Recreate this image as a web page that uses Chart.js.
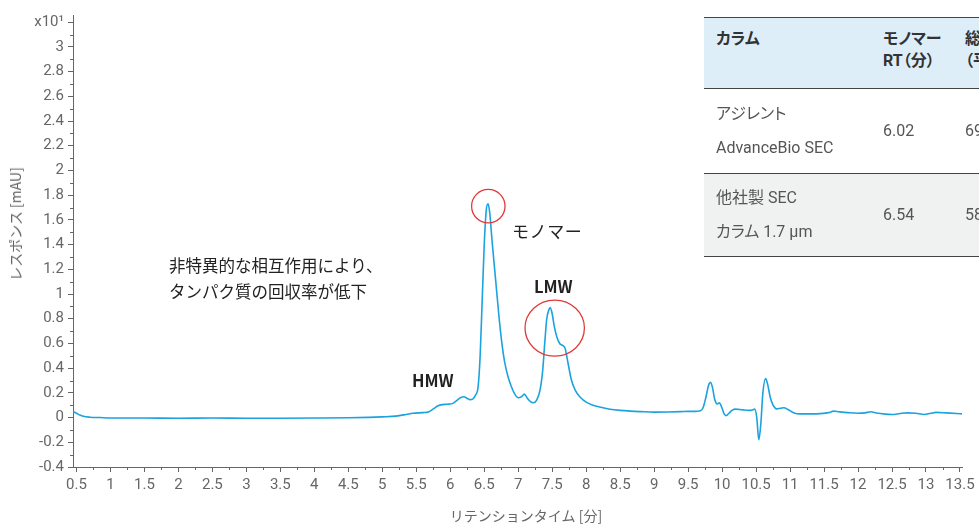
<!DOCTYPE html>
<html><head><meta charset="utf-8">
<script src="https://cdn.jsdelivr.net/npm/chart.js@4/dist/chart.umd.min.js"></script>
<style>
html,body{margin:0;padding:0;background:#fff;overflow:hidden;}
#wrap{position:relative;width:979px;height:525px;overflow:hidden;font-family:Roboto,"Noto Sans CJK JP",sans-serif;}
#c{position:absolute;left:0;top:0;}
.ann{position:absolute;white-space:nowrap;color:#222;font-family:"Noto Sans CJK JP",Roboto,sans-serif;}
.bold{font-weight:bold;font-family:"Noto Sans CJK JP",sans-serif;}
#ytitle{position:absolute;left:15px;top:224px;transform:translate(-50%,-50%) rotate(-90deg);color:#666;font-size:14px;white-space:nowrap;font-family:"Noto Sans CJK JP",Roboto,sans-serif;}
#xtitle{position:absolute;left:526px;top:515px;transform:translate(-50%,-50%);color:#666;font-size:14px;white-space:nowrap;font-family:"Noto Sans CJK JP",Roboto,sans-serif;}
table{position:absolute;left:704px;top:17px;width:400px;table-layout:fixed;border-collapse:collapse;font-family:Roboto,"Noto Sans CJK JP",sans-serif;font-feature-settings:"palt";font-size:16px;white-space:nowrap;}
td,th{padding:0 0 0 12px;text-align:left;border-top:1px solid #444;border-bottom:1px solid #444;overflow:hidden;}
th{background:#ddeef8;color:#333;font-weight:bold;vertical-align:top;padding-top:10px;height:60px;line-height:22px;box-sizing:content-box;}
td{color:#555;vertical-align:middle;line-height:34px;}
tr.r1 td{height:84px;background:#fff;}
tr.r2 td{height:82px;background:#f0f1f1;}
</style></head>
<body><div id="wrap"><canvas id="c" width="979" height="525"></canvas>
<div id="ytitle">レスポンス [mAU]</div>
<div id="xtitle">リテンションタイム [分]</div>
<div class="ann" style="left:169px;top:252px;font-size:16.5px;line-height:26px;">非特異的な相互作用により、<br>タンパク質の回収率が低下</div>
<div class="ann" style="left:512px;top:219px;font-size:17px;letter-spacing:0.6px;line-height:24px;">モノマー</div>
<div class="ann bold" style="left:534px;top:274px;font-size:16.5px;line-height:24px;">LMW</div>
<div class="ann bold" style="left:412px;top:368px;font-size:16.5px;line-height:24px;">HMW</div>
<table>
<colgroup><col style="width:167px"><col style="width:82px"><col style="width:151px"></colgroup>
<tr><th>カラム</th><th>モノマー<br>RT（分）</th><th>総回収率<br>（平均）</th></tr>
<tr class="r1"><td>アジレント<br>AdvanceBio SEC</td><td>6.02</td><td>69</td></tr>
<tr class="r2"><td>他社製 SEC<br>カラム 1.7 µm</td><td>6.54</td><td>58</td></tr>
</table>
</div>
<script>
// Retention time (min)
const retentionTime = [0.449,0.5,0.55,0.6,0.7,0.85,1.0,1.5,2.0,2.5,3.0,3.5,4.0,4.5,4.8,5.0,5.2,5.35,5.45,5.6,5.68,5.75,5.82,5.88,5.96,6.04,6.1,6.15,6.2,6.25,6.29,6.33,6.37,6.41,6.44,6.47,6.5,6.53,6.557,6.58,6.62,6.67,6.72,6.76,6.8,6.85,6.9,6.95,7.0,7.05,7.09,7.13,7.18,7.22,7.27,7.32,7.36,7.39,7.42,7.45,7.47,7.5,7.53,7.57,7.61,7.65,7.69,7.73,7.78,7.84,7.92,8.0,8.1,8.2,8.35,8.5,8.65,8.8,9.0,9.2,9.4,9.5,9.6,9.68,9.72,9.76,9.8,9.83,9.86,9.89,9.93,9.96,9.99,10.03,10.06,10.1,10.15,10.2,10.3,10.4,10.45,10.48,10.51,10.54,10.57,10.6,10.64,10.67,10.71,10.75,10.8,10.86,10.91,10.97,11.05,11.15,11.3,11.45,11.57,11.64,11.72,11.85,12.0,12.1,12.19,12.27,12.4,12.5,12.62,12.73,12.85,12.97,13.07,13.15,13.3,13.45,13.53];
// Response (x10 mAU)
const response = [0.05,0.035,0.02,0.01,0.003,0.0,-0.003,-0.004,-0.005,-0.004,-0.005,-0.005,-0.004,-0.002,0.002,0.006,0.012,0.025,0.035,0.04,0.045,0.07,0.095,0.105,0.108,0.115,0.14,0.16,0.168,0.155,0.145,0.15,0.18,0.25,0.5,0.95,1.4,1.68,1.73,1.66,1.4,1.1,0.8,0.6,0.45,0.33,0.25,0.19,0.16,0.17,0.19,0.16,0.13,0.12,0.14,0.22,0.38,0.6,0.8,0.87,0.89,0.84,0.74,0.65,0.6,0.585,0.56,0.45,0.31,0.22,0.16,0.125,0.1,0.085,0.068,0.058,0.052,0.048,0.044,0.045,0.048,0.05,0.05,0.055,0.08,0.16,0.26,0.285,0.24,0.15,0.11,0.12,0.09,0.03,0.016,0.035,0.06,0.068,0.062,0.058,0.062,0.068,0.0,-0.18,-0.05,0.2,0.315,0.27,0.16,0.1,0.07,0.075,0.08,0.065,0.04,0.03,0.03,0.032,0.04,0.052,0.047,0.04,0.035,0.038,0.047,0.037,0.028,0.025,0.033,0.038,0.035,0.025,0.035,0.042,0.038,0.033,0.03];
const xTickValues = [0.5,1,1.5,2,2.5,3,3.5,4,4.5,5,5.5,6,6.5,7,7.5,8,8.5,9,9.5,10,10.5,11,11.5,12,12.5,13,13.5];
const yTickValues = [-0.4,-0.2,0,0.2,0.4,0.6,0.8,1,1.2,1.4,1.6,1.8,2,2.2,2.4,2.6,2.8,3,3.2];
const yTopLabel = 'x10¹';

const points = retentionTime.map((x,i)=>({x:x,y:response[i]}));
const AX = '#666';

const extras = {
  id:'extras',
  afterDraw(chart){
    const ctx = chart.ctx, xs = chart.scales.x, ys = chart.scales.y, ca = chart.chartArea;
    ctx.save();
    ctx.strokeStyle = AX; ctx.lineWidth = 1;
    ctx.beginPath();
    for (let i=0;i<xTickValues.length-1;i++){
      const v = (xTickValues[i]+xTickValues[i+1])/2;
      const px = Math.round(xs.getPixelForValue(v))+0.5;
      ctx.moveTo(px, ca.bottom); ctx.lineTo(px, ca.bottom+3);
    }
    for (let i=0;i<yTickValues.length-1;i++){
      const v = (yTickValues[i]+yTickValues[i+1])/2;
      const py = Math.round(ys.getPixelForValue(v))+0.5;
      ctx.moveTo(ca.left-3, py); ctx.lineTo(ca.left, py);
    }
    ctx.stroke();
    // annotation circles
    ctx.strokeStyle = '#e03a3a'; ctx.lineWidth = 1.3;
    ctx.beginPath();
    ctx.ellipse(xs.getPixelForValue(6.56), ys.getPixelForValue(1.711), 16.7, 16.7, 0, 0, Math.PI*2);
    ctx.stroke();
    ctx.beginPath();
    ctx.ellipse(xs.getPixelForValue(7.537), ys.getPixelForValue(0.724), 29.7, 28, 0, 0, Math.PI*2);
    ctx.stroke();
    ctx.restore();
  }
};

new Chart(document.getElementById('c'), {
  type:'line',
  data:{datasets:[{data:points,borderColor:'#1ba3e0',borderWidth:1.6,pointRadius:0,fill:false,cubicInterpolationMode:'monotone'}]},
  options:{
    responsive:false, animation:false, maintainAspectRatio:false,
    layout:{padding:{left:0,right:17,top:15,bottom:0}},
    plugins:{legend:{display:false},tooltip:{enabled:false}},
    scales:{
      x:{type:'linear',min:0.449,max:13.53,
        afterBuildTicks(s){s.ticks = xTickValues.map(v=>({value:v}));},
        afterFit(s){s.height = 58;},
        grid:{drawOnChartArea:false,drawTicks:true,tickLength:5,color:AX},
        border:{display:true,color:AX,width:1},
        ticks:{color:'#666',font:{family:'Roboto',size:15},padding:4,maxRotation:0,autoSkip:false,
          callback:(v)=>String(Math.round(v*10)/10)}
      },
      y:{type:'linear',min:-0.4,max:3.258,
        afterBuildTicks(s){s.ticks = yTickValues.map(v=>({value:v}));},
        afterFit(s){s.width = 73;},
        grid:{drawOnChartArea:false,drawTicks:true,tickLength:5,color:AX},
        border:{display:true,color:AX,width:1},
        ticks:{color:'#666',font:{family:'Roboto',size:15},padding:4,autoSkip:false,
          callback:(v)=>{ if (Math.abs(v-3.2)<1e-6) return yTopLabel; return String(Math.round(v*10)/10); }}
      }
    }
  },
  plugins:[extras]
});
</script>
</body></html>
